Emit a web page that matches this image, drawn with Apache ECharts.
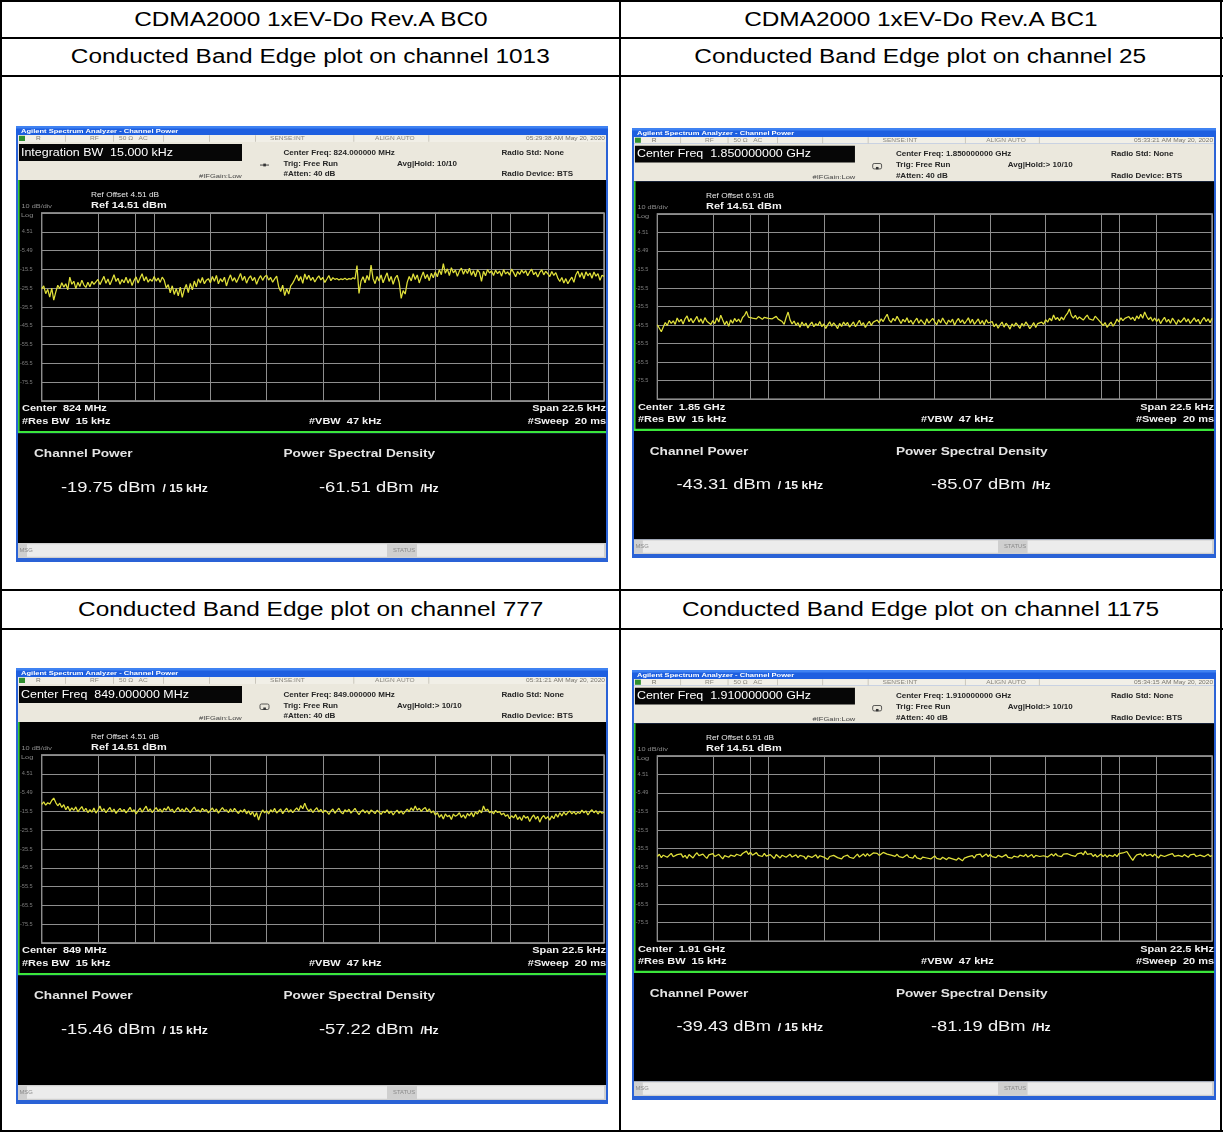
<!DOCTYPE html>
<html>
<head>
<meta charset="utf-8">
<title>CDMA2000 1xEV-Do Rev.A conducted band edge</title>
<script src="https://cdn.jsdelivr.net/npm/echarts@6/dist/echarts.min.js"></script>
<style>
html,body{margin:0;padding:0;background:#fff;}
#page{position:relative;width:1223px;height:1133px;overflow:hidden;background:#fff;font-family:"Liberation Sans",Arial,sans-serif;}
.rule{position:absolute;background:#000;}
.cap{position:absolute;display:flex;align-items:center;justify-content:center;font-size:20px;color:#000;white-space:nowrap;}
.cap span{display:inline-block;transform:scaleX(1.22);}
.shot{position:absolute;}
</style>
</head>
<body>
<div id="page"></div>
<script>
// ---- table captions ----
const bandTitles = ['CDMA2000 1xEV-Do Rev.A BC0', 'CDMA2000 1xEV-Do Rev.A BC1'];
const plotChannels = [1013, 25, 777, 1175];

// ---- analyzer settings per plot ----
const activeFunctions = ['Integration BW  15.000 kHz', 'Center Freq  1.850000000 GHz', 'Center Freq  849.000000 MHz', 'Center Freq  1.910000000 GHz'];
const centerFreqs = ['824.000000 MHz', '1.850000000 GHz', '849.000000 MHz', '1.910000000 GHz'];
const centerShort = ['824 MHz', '1.85 GHz', '849 MHz', '1.91 GHz'];
const avgHold = ['Avg|Hold: 10/10', 'Avg|Hold:> 10/10', 'Avg|Hold:> 10/10', 'Avg|Hold:> 10/10'];
const timestamps = ['05:29:38 AM May 20, 2020', '05:33:21 AM May 20, 2020', '05:31:21 AM May 20, 2020', '05:34:15 AM May 20, 2020'];
const refOffsets = ['4.51', '6.91', '4.51', '6.91'];
const channelPowers = ['-19.75', '-43.31', '-15.46', '-39.43'];
const psdValues = ['-61.51', '-85.07', '-57.22', '-81.19'];
const refLevel = 14.51;      // dBm, top graticule line
const dbPerDiv = 10;
const spanKHz = 22.5;
const integrationMarkersKHz = [-7.5, 7.5];

// ---- measured traces (dBm), sweep points evenly spread across the span ----
const traceCh1013 = [
  -25.9,-24.3,-28.4,-26.1,-30.2,-25.4,-31.8,-27.6,-23.9,-25.8,-22.6,-24.9,-23.1,-26.3,
  -19.6,-23.4,-21.8,-25.7,-22.4,-24.6,-21.2,-23.8,-25.1,-22.3,-24.7,-21.9,-23.5,-22.1,
  -20.8,-23.6,-21.4,-19.2,-22.9,-20.6,-23.7,-21.1,-18.3,-21.9,-20.2,-23.4,-20.9,-22.6,
  -19.7,-22.8,-20.4,-24.1,-21.3,-19.5,-22.7,-20.1,-17.8,-21.6,-19.4,-22.3,-20.7,-21.8,
  -19.3,-21.7,-20.1,-22.4,-19.6,-21.2,-25.3,-23.6,-27.9,-24.2,-28.8,-25.7,-29.6,-24.9,
  -30.4,-26.2,-23.5,-27.8,-22.9,-26.4,-21.7,-24.8,-20.5,-22.7,-19.8,-23.1,-21.2,-20.4,
  -22.6,-19.3,-21.8,-18.7,-23.2,-20.4,-22.1,-19.6,-24.3,-20.8,-18.4,-21.7,-19.9,-22.5,
  -20.2,-17.6,-21.4,-19.1,-22.8,-20.3,-18.9,-21.5,-19.7,-23.4,-20.6,-18.8,-21.3,-19.4,
  -18.6,-21.2,-19.8,-22.3,-20.5,-19.1,-24.7,-27.3,-23.9,-29.4,-25.8,-28.6,-24.2,-22.8,
  -20.7,-18.5,-21.6,-19.3,-22.9,-17.9,-20.8,-18.6,-21.4,-19.7,-22.2,-20.3,-18.9,-21.1,
  -19.8,-22.4,-20.6,-18.7,-21.5,-19.9,-20.8,-20.3,-21.1,-20.5,-20.9,-20.2,-21.0,-20.4,
  -20.7,-19.9,-20.6,-13.5,-28.3,-21.8,-19.4,-22.6,-18.7,-21.3,-13.2,-20.4,-23.1,-19.2,
  -21.7,-18.4,-22.6,-19.8,-17.3,-21.9,-19.2,-23.4,-20.1,-18.6,-22.3,-30.9,-26.8,-28.6,
  -22.4,-19.3,-21.6,-17.8,-20.9,-18.4,-22.7,-19.6,-16.9,-20.4,-18.2,-21.5,-17.6,-19.9,
  -16.8,-19.4,-15.7,-18.3,-12.4,-17.6,-15.2,-18.8,-14.6,-17.3,-15.9,-19.2,-16.4,-14.8,
  -18.1,-15.5,-17.7,-14.9,-18.6,-16.2,-19.4,-15.8,-17.1,-21.8,-16.5,-18.9,-15.6,-17.4,
  -16.3,-18.7,-15.9,-17.8,-16.4,-19.1,-15.6,-17.9,-16.8,-18.5,-15.3,-17.2,-19.4,-16.6,
  -18.2,-15.8,-17.5,-16.1,-18.9,-16.7,-15.4,-18.3,-16.9,-19.6,-17.1,-15.7,-18.4,-16.5,
  -17.8,-19.3,-16.6,-18.7,-17.2,-20.1,-21.9,-19.8,-22.7,-20.4,-23.1,-21.2,-19.6,-22.4,
  -18.3,-16.4,-19.7,-17.2,-20.5,-16.8,-18.9,-17.4,-20.2,-16.9,-19.1,-17.7,-21.3,-18.6,
  -19.2
];
const traceCh25 = [
  -45.4,-47.2,-49.1,-46.5,-44.1,-45.8,-42.9,-44.6,-43.2,-45.1,-41.7,-43.8,-42.4,-44.9,
  -42.1,-40.6,-43.7,-41.9,-44.3,-42.6,-40.8,-43.9,-42.2,-44.6,-41.5,-43.4,-42.8,-45.2,
  -43.1,-44.7,-41.6,-43.9,-40.2,-42.8,-45.3,-43.4,-46.2,-42.7,-44.5,-41.9,-43.6,-42.3,
  -44.1,-41.4,-40.3,-38.1,-41.2,-40.6,-41.8,-41.1,-42.2,-40.9,-41.6,-42.4,-41.3,-40.7,
  -41.9,-41.2,-42.1,-41.5,-40.8,-42.3,-41.7,-43.6,-45.1,-41.4,-38.5,-42.7,-44.9,-43.3,
  -45.6,-44.2,-46.7,-43.8,-45.9,-44.4,-47.1,-45.2,-43.9,-46.4,-44.7,-45.8,-43.6,-46.3,
  -44.9,-47.3,-45.4,-43.7,-46.1,-44.3,-45.7,-47.4,-44.6,-46.2,-43.9,-45.5,-44.1,-46.6,
  -45.2,-43.8,-46.4,-44.7,-42.9,-45.6,-44.2,-46.8,-44.9,-43.5,-45.7,-43.9,-44.6,-42.8,
  -44.3,-42.1,-43.6,-41.4,-39.7,-42.8,-44.1,-41.9,-43.3,-40.8,-42.7,-44.6,-42.4,-43.8,
  -41.6,-44.2,-42.9,-45.1,-43.2,-41.8,-44.5,-42.6,-43.9,-45.3,-42.1,-44.4,-43.1,-41.9,
  -43.7,-45.4,-42.5,-44.3,-41.7,-43.6,-45.2,-42.8,-44.1,-42.3,-45.6,-43.4,-41.9,-44.2,
  -42.7,-44.8,-43.3,-41.6,-44.5,-42.4,-45.1,-43.7,-42.2,-44.9,-43.1,-45.3,-42.6,-44.4,
  -45.1,-43.6,-46.4,-44.8,-47.2,-45.3,-43.9,-46.6,-44.5,-45.8,-47.7,-44.9,-46.2,-44.3,
  -45.7,-47.3,-44.6,-46.1,-43.8,-45.4,-47.5,-45.9,-44.2,-46.8,-44.7,-45.6,-43.9,-45.1,
  -42.6,-43.9,-41.8,-43.2,-40.1,-42.5,-41.4,-43.1,-41.2,-42.7,-40.6,-39.2,-36.8,-40.4,
  -41.7,-40.2,-42.4,-41.1,-40.5,-42.8,-41.3,-40.1,-42.2,-41.6,-42.9,-40.7,-41.9,-42.6,
  -44.3,-45.8,-44.1,-46.7,-45.2,-43.9,-46.1,-44.6,-42.3,-43.8,-41.6,-43.1,-41.9,-42.7,
  -40.9,-42.4,-41.3,-43.2,-40.6,-42.1,-39.7,-41.8,-38.4,-40.9,-42.6,-41.2,-43.4,-41.7,
  -43.6,-42.1,-44.7,-42.8,-41.3,-43.9,-42.4,-44.5,-41.8,-43.3,-45.2,-42.6,-44.1,-42.9,
  -41.5,-43.8,-42.2,-44.6,-43.1,-41.6,-43.7,-42.4,-44.9,-42.8,-41.4,-43.6,-42.1,-44.3,
  -41.8
];
const traceCh777 = [
  -11.8,-10.4,-12.2,-10.9,-11.6,-9.7,-8.4,-10.8,-12.5,-11.1,-13.4,-11.9,-14.6,-12.8,
  -15.2,-13.6,-14.9,-13.1,-15.7,-14.3,-12.9,-15.4,-13.8,-16.1,-14.5,-15.9,-13.7,-16.4,
  -14.8,-12.6,-15.3,-14.1,-16.2,-14.7,-13.4,-15.8,-14.2,-16.6,-15.1,-13.9,-15.6,-14.4,
  -16.3,-14.9,-13.3,-15.7,-14.6,-16.8,-15.2,-13.7,-15.9,-14.3,-12.7,-15.4,-14.1,-16.1,
  -14.7,-13.5,-15.4,-14.2,-15.9,-13.8,-14.9,-12.9,-15.1,-14.3,-16.2,-14.6,-13.4,-15.5,
  -14.1,-15.7,-13.6,-14.8,-16.1,-14.4,-13.2,-15.3,-14.7,-15.9,-13.9,-15.2,-14.5,-16.3,
  -14.9,-13.7,-15.6,-14.2,-16.4,-14.8,-13.5,-15.1,-14.6,-16.2,-14.1,-15.8,-13.9,-15.4,
  -16.6,-14.8,-15.9,-14.3,-16.8,-15.2,-17.3,-15.6,-18.4,-16.1,-20.1,-16.9,-14.7,-16.3,
  -15.1,-16.9,-14.6,-15.8,-13.9,-16.4,-15.3,-14.2,-16.7,-15.1,-13.8,-15.9,-14.5,-16.2,
  -14.8,-13.6,-15.2,-12.4,-14.1,-11.1,-13.9,-15.4,-14.2,-16.1,-14.7,-13.5,-15.8,-14.4,
  -16.2,-14.9,-15.6,-17.1,-15.3,-14.2,-16.5,-15.1,-13.8,-15.9,-16.8,-14.6,-15.7,-14.3,
  -16.4,-15.2,-13.9,-15.8,-17.2,-15.5,-14.6,-16.3,-15.1,-16.9,-14.8,-15.6,-16.7,-14.9,
  -15.8,-17.1,-15.4,-16.2,-14.7,-16.6,-15.3,-17.4,-15.9,-14.8,-16.5,-15.2,-16.9,-15.6,
  -14.3,-15.7,-13.6,-15.1,-12.6,-14.9,-13.8,-15.5,-14.2,-13.4,-15.6,-14.1,-16.3,-15.2,
  -17.4,-16.1,-18.6,-17.2,-19.5,-16.8,-18.3,-17.6,-19.8,-16.9,-18.1,-17.4,-16.2,-18.7,
  -17.3,-19.2,-16.6,-17.9,-16.1,-18.4,-15.7,-16.9,-14.8,-16.3,-12.6,-15.1,-14.3,-16.2,
  -15.4,-16.8,-14.9,-16.1,-15.6,-17.3,-16.4,-18.1,-17.2,-19.4,-17.8,-18.9,-17.1,-19.8,
  -18.4,-20.3,-17.6,-19.1,-18.2,-20.9,-18.7,-17.4,-19.6,-18.1,-21.2,-18.8,-17.7,-19.5,
  -18.3,-20.1,-17.9,-19.4,-16.8,-18.6,-16.2,-17.9,-15.8,-17.4,-16.1,-15.3,-16.8,-15.6,
  -17.1,-15.9,-16.6,-14.8,-16.3,-15.2,-17.4,-15.7,-14.6,-16.2,-15.1,-16.9,-15.4,-16.5,
  -15.9
];
const traceCh1175 = [
  -39.8,-38.6,-40.4,-39.1,-38.3,-40.2,-39.5,-38.1,-39.9,-40.7,-38.8,-39.6,-38.4,-40.3,
  -39.2,-40.9,-38.7,-39.4,-40.6,-38.9,-37.8,-39.3,-40.1,-38.5,-39.7,-40.8,-38.9,-39.5,
  -38.2,-39.8,-40.5,-38.6,-39.9,-41.1,-39.3,-38.4,-40.2,-39.1,-38.3,-39.7,-38.6,-37.9,
  -39.4,-38.2,-37.6,-36.9,-38.7,-37.5,-39.1,-38.3,-37.7,-39.2,-38.4,-39.8,-38.1,-39.6,
  -40.3,-38.8,-39.5,-40.9,-38.7,-39.4,-40.6,-39.1,-38.5,-40.2,-39.3,-38.6,-40.1,-39.7,
  -38.9,-40.4,-39.2,-38.4,-39.8,-41.2,-39.5,-38.7,-40.3,-39.6,-38.9,-40.7,-39.4,-38.5,
  -40.1,-39.3,-41.4,-39.8,-40.6,-39.2,-38.6,-40.4,-39.5,-41.1,-39.8,-40.6,-39.1,-40.2,
  -39.4,-40.8,-39.6,-38.5,-40.1,-39.3,-38.4,-39.7,-38.2,-39.5,-38.8,-37.9,-38.7,-38.1,
  -39.2,-38.4,-37.6,-36.9,-38.5,-37.8,-39.1,-38.3,-39.7,-38.6,-39.9,-39.2,-40.4,-39.6,
  -38.8,-40.2,-39.4,-40.7,-39.1,-40.5,-39.8,-41.2,-40.1,-39.4,-40.6,-39.7,-41.1,-40.3,
  -39.5,-40.8,-39.9,-41.3,-40.2,-39.6,-41.5,-40.4,-39.8,-41.1,-40.5,-41.8,-40.6,-41.2,
  -42.1,-40.7,-41.4,-39.9,-40.8,-39.3,-40.6,-38.9,-39.7,-38.5,-40.1,-39.2,-38.4,-39.8,
  -38.7,-39.9,-39.1,-40.4,-39.2,-38.6,-40.1,-39.5,-38.8,-40.3,-39.4,-40.7,-39.6,-38.9,
  -40.2,-39.1,-38.3,-39.7,-38.6,-40.1,-39.3,-38.7,-40.4,-39.2,-38.5,-39.8,-40.6,-39.4,
  -38.8,-40.1,-39.3,-38.4,-39.6,-38.2,-39.4,-38.7,-39.9,-38.5,-39.1,-38.3,-37.9,-39.2,
  -38.6,-39.7,-38.4,-39.3,-37.8,-38.9,-36.9,-38.6,-39.5,-38.2,-39.8,-38.7,-40.1,-39.3,
  -38.5,-39.9,-38.8,-40.2,-39.1,-38.4,-39.7,-38.6,-39.9,-38.3,-39.2,-37.9,-38.4,-37.1,
  -38.8,-40.4,-41.9,-40.1,-38.9,-39.6,-38.4,-39.7,-38.2,-39.4,-40.3,-38.7,-39.8,-38.5,
  -39.3,-40.6,-39.1,-38.4,-39.8,-40.5,-38.9,-39.6,-38.3,-39.7,-40.4,-39.2,-38.6,-39.9,
  -38.8,-39.5,-40.2,-38.9,-39.6,-38.5,-39.8,-40.3,-39.1,-38.7,-39.9,-39.2,-38.6,-39.7,
  -39.3
];
const traces = [traceCh1013, traceCh25, traceCh777, traceCh1175];

// ---- page layout ----
const page = document.getElementById('page');
function rule(x, y, w, h) {
  const d = document.createElement('div');
  d.className = 'rule';
  Object.assign(d.style, {left: x + 'px', top: y + 'px', width: w + 'px', height: h + 'px'});
  page.appendChild(d);
}
function caption(x, y, w, h, text) {
  const d = document.createElement('div');
  d.className = 'cap';
  Object.assign(d.style, {left: x + 'px', top: y + 'px', width: w + 'px', height: h + 'px'});
  const s = document.createElement('span');
  s.textContent = text;
  d.appendChild(s);
  page.appendChild(d);
}
// table frame
rule(0, 0, 1223, 2); rule(0, 1130, 1223, 2);
rule(0, 0, 2, 1132); rule(1220, 0, 2, 1132);
rule(619, 0, 1.5, 1132);
rule(0, 37, 1223, 1.5); rule(0, 75, 1223, 2);
rule(0, 589, 1223, 1.5); rule(0, 628, 1223, 2);
// captions
caption(2, 2, 617, 35, bandTitles[0]);
caption(621, 2, 599, 35, bandTitles[1]);
caption(2, 38.5, 617, 36.5, 'Conducted Band Edge plot on channel ' + plotChannels[0]);
caption(621, 38.5, 599, 36.5, 'Conducted Band Edge plot on channel ' + plotChannels[1]);
caption(2, 590.5, 617, 37.5, 'Conducted Band Edge plot on channel ' + plotChannels[2]);
caption(621, 590.5, 599, 37.5, 'Conducted Band Edge plot on channel ' + plotChannels[3]);

// screenshot boxes
const shotBoxes = [
  {left: 16, top: 126, w: 592, h: 436},
  {left: 632, top: 128, w: 584, h: 430},
  {left: 16, top: 668, w: 592, h: 436},
  {left: 632, top: 670, w: 584, h: 430}
];

const SX = 1.22;   // horizontal stretch of the screen lettering
const FONT = '"Liberation Sans", Arial, sans-serif';

function buildPanel(i) {
  const box = shotBoxes[i];
  const el = document.createElement('div');
  el.className = 'shot';
  Object.assign(el.style, {left: box.left + 'px', top: box.top + 'px', width: box.w + 'px', height: box.h + 'px'});
  page.appendChild(el);

  const kx = box.w / 592, ky = box.h / 436;
  const X = v => v * kx, Y = v => v * ky;
  const g = [];
  const rect = (x, y, w, h, fill, extra) => g.push(Object.assign({
    type: 'rect', silent: true, z: -5,
    shape: {x: X(x), y: Y(y), width: X(w), height: Y(h)}, style: {fill: fill}
  }, extra || {}));
  const text = (x, y, str, size, weight, fill, align, rich) => g.push({
    type: 'text', silent: true, z: -4, x: X(x), y: Y(y), scaleX: SX,
    style: Object.assign({
      text: str, fontSize: size, fontWeight: weight, fontFamily: FONT,
      fill: fill, align: align || 'left', verticalAlign: 'middle'
    }, rich ? {rich: rich} : {})
  });

  // window frame and title bar
  rect(0, 0, 592, 436, '#2a62d6');
  rect(0, 0, 592, 9, '#1e5fe0');
  rect(0, 0, 592, 2.5, '#3f82f2');
  text(5, 4.9, 'Agilent Spectrum Analyzer - Channel Power', 6.2, 'bold', '#ffffff');

  // status strip
  rect(2, 9, 588, 7, '#f1efe7');
  rect(3, 9.8, 6, 5.2, '#2f8f2f');
  [49, 97, 147, 193, 239, 337.5, 412.5].forEach(x => rect(x, 9.3, 0.7, 6.4, '#b9b5aa'));
  text(20, 12.6, 'R', 5.4, 'normal', '#77746c');
  text(74, 12.6, 'RF', 5.4, 'normal', '#8a877f');
  text(103, 12.6, '50 \u03A9   AC', 5.4, 'normal', '#8a877f');
  text(254, 12.6, 'SENSE:INT', 5.4, 'normal', '#8a877f');
  text(359, 12.6, 'ALIGN AUTO', 5.4, 'normal', '#8a877f');
  text(589, 12.6, timestamps[i], 5.4, 'normal', '#77746c', 'right');

  // settings header
  rect(2, 16, 588, 38, '#ebe8dd');
  rect(3, 18, 223, 17, '#060606');
  text(5, 26.8, activeFunctions[i], 10.2, 'normal', '#ffffff');
  text(267.5, 27, 'Center Freq: ' + centerFreqs[i], 6.6, 'bold', '#262626');
  text(267.5, 38, 'Trig: Free Run', 6.6, 'bold', '#262626');
  text(381, 38, avgHold[i], 6.6, 'bold', '#262626');
  text(267.5, 48.5, '#Atten: 40 dB', 6.6, 'bold', '#262626');
  text(485.5, 27, 'Radio Std: None', 6.6, 'bold', '#262626');
  text(485.5, 48.5, 'Radio Device: BTS', 6.6, 'bold', '#262626');
  text(183, 50, '#IFGain:Low', 6.2, 'normal', '#444444');
  if (i === 0) {
    rect(244, 38.6, 9, 0.9, '#333333');
    rect(247.3, 37.6, 2.6, 2.8, '#333333');
  } else {
    g.push({type: 'rect', silent: true, z: -4,
      shape: {x: X(244), y: Y(36), width: X(9), height: Y(5.5), r: 1.5},
      style: {fill: 'none', stroke: '#333333', lineWidth: 0.8}});
    rect(247.3, 39.5, 2.6, 2.4, '#333333');
  }

  // trace window
  rect(2, 54, 588, 252, '#000000');
  rect(2, 54, 1.6, 252, '#35c935');
  text(75, 69, 'Ref Offset ' + refOffsets[i] + ' dB', 6.8, 'normal', '#e8e8e8');
  text(5.5, 80, '10 dB/div', 6, 'normal', '#8c8c8c');
  text(75, 80, 'Ref ' + refLevel.toFixed(2) + ' dBm', 9, 'bold', '#f2f2f2');
  text(5, 89.5, 'Log', 6, 'normal', '#8c8c8c');
  text(6, 283, 'Center  ' + centerShort[i], 9, 'bold', '#f2f2f2');
  text(6, 296, '#Res BW  15 kHz', 9, 'bold', '#f2f2f2');
  text(293, 296, '#VBW  47 kHz', 9, 'bold', '#f2f2f2');
  text(590, 283, 'Span ' + spanKHz + ' kHz', 9, 'bold', '#f2f2f2', 'right');
  text(590, 296, '#Sweep  20 ms', 9, 'bold', '#f2f2f2', 'right');
  rect(2, 305, 588, 2.2, '#3be63b');

  // result window
  rect(2, 307.2, 588, 110, '#000000');
  text(18, 328, 'Channel Power', 11.2, 'bold', '#e4e4e4');
  text(267.5, 328, 'Power Spectral Density', 11.2, 'bold', '#e4e4e4');
  const valRich = {
    v: {fontSize: 15, fontFamily: FONT, fill: '#f4f4f4'},
    u: {fontSize: 10, fontWeight: 'bold', fontFamily: FONT, fill: '#f4f4f4', padding: [3, 0, 0, 0]}
  };
  text(45, 362, '{v|' + channelPowers[i] + ' dBm}{u|  / 15 kHz}', 15, 'normal', '#f4f4f4', 'left', valRich);
  text(303, 362, '{v|' + psdValues[i] + ' dBm}{u|  /Hz}', 15, 'normal', '#f4f4f4', 'left', valRich);

  // message bar
  rect(2, 417, 588, 15, '#cfcfcf');
  rect(11, 418.2, 360, 12.6, '#ececec');
  rect(401, 418.2, 187, 12.6, '#ececec');
  text(3.5, 424.6, 'MSG', 4.8, 'normal', '#8a8a8a');
  text(377, 424.6, 'STATUS', 4.8, 'normal', '#8a8a8a');

  const trace = traces[i];
  const n = trace.length;
  const points = trace.map((v, k) => [-spanKHz / 2 + spanKHz * k / (n - 1), v]);
  const gridStyle = {color: '#8e8e8e', width: 1};

  const chart = echarts.init(el, null, {renderer: 'canvas', width: box.w, height: box.h});
  chart.setOption({
    animation: false,
    graphic: {elements: g},
    grid: {left: X(25.7), top: Y(87), width: X(562.3), height: Y(188),
      show: true, backgroundColor: 'transparent', borderColor: '#a9a9a9', borderWidth: 1.3},
    xAxis: {type: 'value', min: -spanKHz / 2, max: spanKHz / 2, interval: spanKHz / 10,
      axisLine: {show: false}, axisTick: {show: false}, axisLabel: {show: false},
      splitLine: {show: true, lineStyle: gridStyle}},
    yAxis: {type: 'value', min: refLevel - dbPerDiv * 10, max: refLevel, interval: dbPerDiv,
      axisLine: {show: false}, axisTick: {show: false},
      axisLabel: {show: true, showMinLabel: false, showMaxLabel: false, margin: X(9),
        color: '#7c7c7c', fontSize: 5.6, fontFamily: FONT, padding: [3, 0, 0, 0],
        formatter: v => Math.abs(v) >= 10 ? v.toFixed(1) : v.toFixed(2)},
      splitLine: {show: true, lineStyle: gridStyle}},
    series: [
      {type: 'line', data: [], z: 1, silent: true,
        markLine: {silent: true, symbol: 'none', z: 1, animation: false,
          label: {show: false}, lineStyle: {color: '#8e8e8e', type: 'solid', width: 1},
          data: integrationMarkersKHz.map(f => ({xAxis: f}))}},
      {type: 'line', data: points, z: 3, symbol: 'none', silent: true,
        lineStyle: {color: '#e0e03a', width: 1.25}}
    ]
  });
}
for (let i = 0; i < 4; i++) buildPanel(i);
</script>
</body>
</html>
